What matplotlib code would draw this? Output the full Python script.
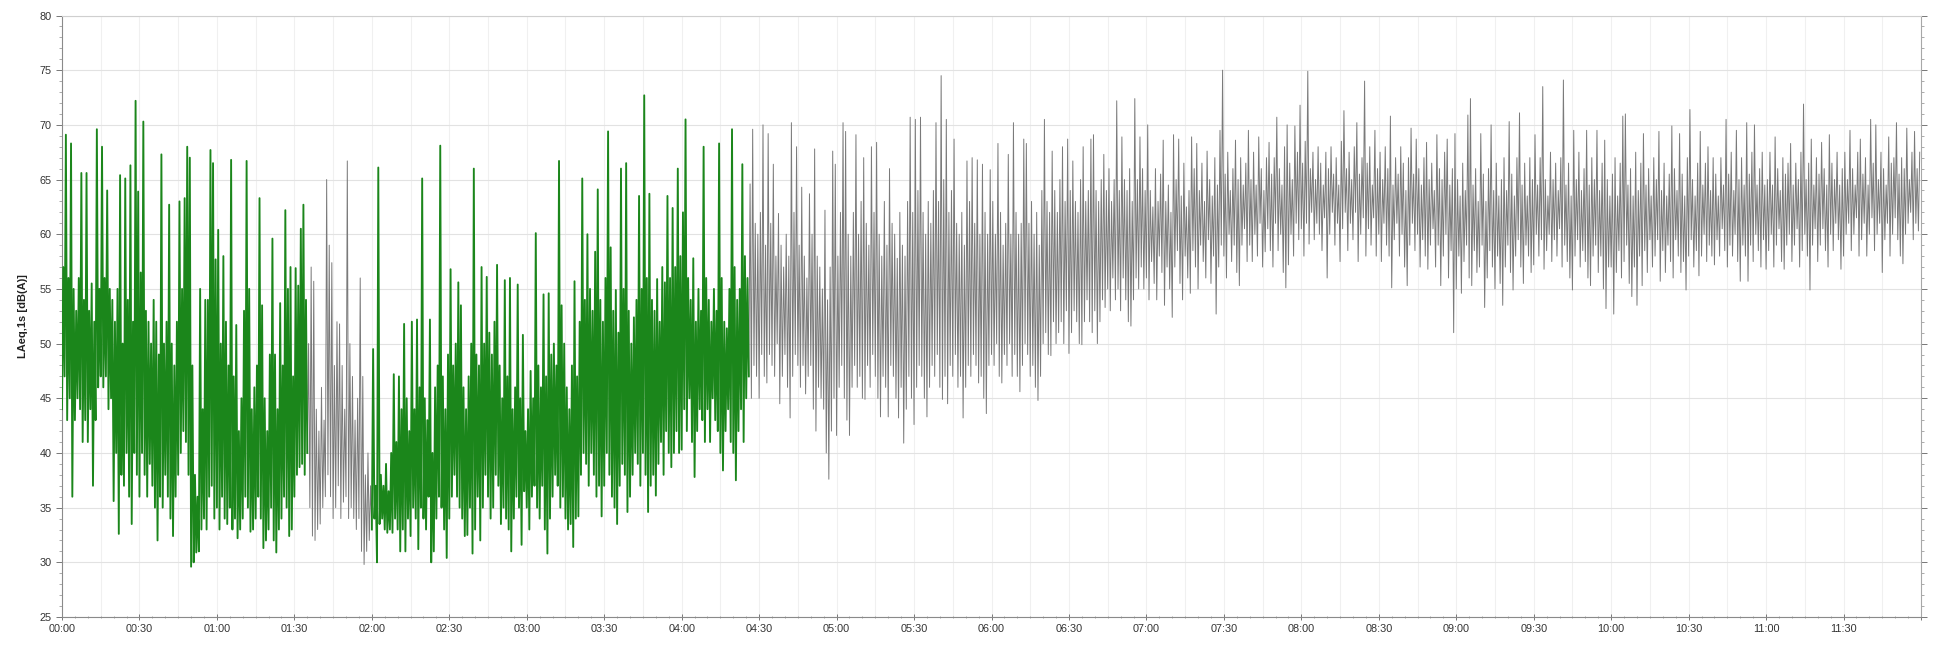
import numpy as np
import matplotlib
matplotlib.use("Agg")
import matplotlib.pyplot as plt
from matplotlib.ticker import MultipleLocator, FuncFormatter

# LAeq,1s envelope per minute, dB(A): upper (hi) and lower (lo) value, one list per hour
hi_00 = [57, 69.1, 56, 68.3, 55, 53, 56, 65.6, 54, 65.6,
         53, 55.5, 52, 69.6, 55, 68, 56, 64, 55, 54,
         52, 55, 65.4, 50, 65.1, 54, 66.3, 52, 72.2, 63.9,
         56.5, 70.3, 53, 52, 50, 54, 52, 49, 67.3, 50,
         52, 62.7, 50, 48, 52, 63, 55, 63.3, 68, 67,
         48, 38, 36, 55, 44, 54, 54, 67.7, 66.5, 57.7]
lo_00 = [44, 47, 43, 45, 36, 43, 45, 44, 41, 43,
         41, 44, 37, 43, 46, 47, 46, 47, 44, 45,
         35.6, 40, 32.6, 38, 37, 40, 36, 33.5, 40, 38,
         36, 40, 38, 36, 39, 37, 35, 32, 36, 35,
         38, 36, 34, 32.4, 36, 38, 40, 42, 41, 38,
         29.6, 30, 30.9, 31, 33, 34, 33, 36, 37, 34]

hi_01 = [60.4, 50, 58, 52, 48, 66.8, 47, 51.7, 42, 45,
         53, 66.7, 55, 44, 46, 48, 63.3, 53.5, 45, 42,
         49, 59.6, 49, 44, 53.7, 48, 62.2, 55, 57, 47,
         56.9, 55.3, 60.5, 62.7, 54, 50, 57, 55.7, 44, 42,
         46, 43, 65, 59, 57.4, 48, 52, 51.8, 48, 44,
         66.7, 50, 47, 43, 45, 56, 47, 38, 40, 37]
lo_01 = [35, 33, 36, 34, 33.5, 35, 33, 34, 32.2, 33,
         34, 36, 35, 32.8, 33, 34, 36, 34, 31.3, 32,
         33, 35, 32, 30.9, 33, 34, 36, 35, 32.4, 33,
         36, 38, 38.7, 39, 38, 40, 35, 32.4, 32, 33,
         33.5, 35, 36, 38, 36, 34, 35, 37, 34, 35.5,
         36, 34, 35, 34, 33, 34, 31, 29.8, 31, 32]

hi_02 = [49.5, 37, 66.1, 38, 37, 39, 36.5, 40, 47.2, 41,
         47, 44, 51.8, 45, 42, 52, 44, 52.2, 46, 65.1,
         45, 43, 52.2, 40, 46, 48, 68.1, 47, 44, 49,
         56.8, 48, 50, 55.6, 53.5, 46, 44, 47, 50, 66,
         49, 48, 57, 50, 56.1, 51, 49, 52, 57.2, 48,
         45, 55.8, 47, 56, 44, 46, 55.4, 45, 50.8, 42]
lo_02 = [33, 34, 30, 33.5, 34, 33, 32.7, 33, 32.7, 34,
         33, 31, 33, 31, 34, 32.4, 35, 34, 31.2, 35,
         34, 33, 36, 30, 31, 34, 36, 35, 33, 30.4,
         34, 36, 38, 36, 35, 34, 32.4, 32.5, 35, 30.8,
         33, 36, 32, 35, 38, 36, 34, 35, 38, 37,
         33.5, 35, 34, 33, 31, 34, 36, 35, 31.6, 36.5]

hi_03 = [44, 47.5, 45, 60.1, 48, 46, 54.5, 47, 54.6, 49,
         50, 48, 66.7, 53.5, 50, 46, 44, 48, 55.7, 47,
         52, 65.1, 54, 60, 55, 53, 58.4, 64.1, 54, 52,
         56, 69.4, 58.8, 53, 54.9, 51, 66, 55, 66.5, 53,
         50, 52.4, 54, 63.5, 55, 72.7, 56, 63.7, 54, 53,
         55.9, 52, 57, 55.6, 63.5, 56, 62.4, 57, 66, 58]
lo_03 = [35, 33, 36, 37, 35, 34, 37, 33, 30.8, 34,
         36, 38, 37, 35, 36, 34, 33, 33.5, 31.4, 34,
         34.2, 38, 40, 39, 37, 40, 38, 36, 37, 34.2,
         37, 40, 38, 36, 35, 33.5, 37, 39, 38, 34.6,
         36, 38, 40, 39, 37, 40, 38, 34.6, 37, 38,
         36.1, 39, 41, 38, 42, 40, 38.7, 40, 42, 40]

hi_04 = [62, 70.5, 56, 54, 57.8, 52, 55, 53, 68, 56,
         54, 52, 55, 53, 68.3, 56, 52, 51.4, 55, 69.6,
         57, 54, 55, 66.4, 58, 56, 64.6, 69.6, 61, 60,
         62, 70, 59, 69.2, 61, 66.4, 58, 61.9, 59, 57,
         60, 58, 70.2, 62, 68, 59, 64.3, 58, 56, 63.7,
         60, 67.8, 58, 57, 55, 62.2, 54, 57, 67.6, 66.4]
lo_04 = [40.3, 44, 42, 45, 41, 37.8, 42, 44, 43, 41,
         44, 41, 45, 43, 42, 40, 38.4, 42, 44, 41,
         40, 37.5, 42, 44, 41, 45, 47, 45, 48, 47,
         45, 49, 47, 46.4, 49, 48, 47, 50, 44.5, 47,
         49, 46, 43.2, 47, 49, 48, 46, 48, 45.4, 47,
         48, 44, 42, 46, 45, 44, 40, 37.6, 42, 45]

hi_05 = [58, 62, 70.2, 69.4, 60, 58, 62, 69.1, 60, 63,
         67, 61, 59, 68, 62, 68.4, 60, 58, 63, 59,
         66, 61, 60, 57.8, 62, 59, 58, 63, 70.7, 62,
         70.5, 64, 70.7, 62, 60, 63, 61, 64, 70.2, 63,
         74.5, 65, 70.5, 62, 64, 68.7, 61, 60, 62, 59,
         66.7, 63, 67, 61, 66.8, 60, 66.4, 62, 60, 65.9]
lo_05 = [41.6, 46, 48, 45, 43, 41.6, 46, 48, 46, 47,
         45, 44.9, 48, 46, 49, 47, 45, 43.3, 47, 46,
         43.3, 48, 47, 45, 43.2, 46, 40.9, 44, 47, 45,
         42.6, 46, 48, 47, 45, 43.3, 46, 48, 47, 49,
         46, 44.9, 47, 44.5, 48, 47, 49, 46, 47, 43.2,
         46, 48, 47, 49, 48, 46.4, 47, 45, 43.6, 48]

hi_06 = [63, 60, 68.3, 62, 59, 61, 67.3, 60, 70.2, 62,
         60, 61, 68.7, 68.3, 61, 63, 60, 62, 59, 64,
         70.5, 63, 62, 67.6, 64, 62, 65, 68, 63, 68.7,
         64, 66.7, 63, 62, 65, 68, 63, 64, 68.7, 69.1,
         64, 63, 65, 67.3, 64, 66, 63, 65, 72.2, 64,
         68.9, 65, 64, 66, 63, 72.4, 65, 68.9, 66, 64]
lo_06 = [49, 48, 50, 47, 46.4, 49, 48, 50, 47, 49,
         47, 45.6, 48, 50, 49, 47, 48, 46, 44.8, 47,
         50, 51, 49, 48.9, 52, 50, 51, 52, 50, 53,
         49.1, 51, 53, 52, 50, 49.9, 52, 54, 52, 51,
         53, 50, 52, 54, 53.3, 55, 53, 56, 54, 55,
         53, 56, 54, 52, 51.6, 54, 56, 55, 57, 55]

hi_07 = [70, 64, 62.5, 66, 63, 65.5, 68.6, 63, 64.5, 62,
         69.1, 65, 68.7, 63.5, 66.5, 62.5, 64, 68.9, 66, 68.3,
         64, 66.5, 63, 67.6, 65, 63.5, 67, 64.5, 69.5, 75,
         65.5, 67.5, 64, 66, 68.6, 65, 67, 64.5, 66.5, 69.5,
         65, 67.5, 64.5, 68.9, 66, 64, 67, 68.4, 65.5, 67,
         70.7, 66, 64.5, 68, 70, 66.5, 65, 69.9, 67.5, 71.8]
lo_07 = [56, 54, 57.5, 55.5, 54, 58, 56.5, 53.5, 57, 55,
         52.4, 57, 58.5, 55.5, 54, 58, 56, 54.6, 58.5, 57,
         55, 59, 57.5, 56, 59.5, 55.5, 58, 52.7, 57, 59,
         58, 56, 60, 57.5, 59, 56.5, 55.3, 59, 60.5, 57.5,
         59, 57.5, 60, 58, 61, 57, 58.4, 60.5, 58.5, 57,
         61, 58.5, 60, 56.5, 55.1, 57.2, 60, 58, 61, 59.5]

hi_08 = [66.5, 68.5, 74.9, 66, 67.5, 65, 68, 66.5, 64.5, 67.5,
         66, 68, 65.5, 67, 64.5, 68.5, 71.3, 66, 67.5, 65,
         68, 70.2, 65.5, 67, 74, 66.5, 68, 64.5, 69.5, 66,
         67.5, 65, 68, 66, 70.8, 64.5, 67, 65.5, 68, 66.5,
         64, 67, 69.7, 65.5, 68.7, 66, 64.5, 67, 68.4, 65,
         66.5, 64, 69.1, 66, 65, 67.5, 68.7, 64.5, 66, 69.2]
lo_08 = [60.5, 58, 61, 59.1, 62, 59.5, 61, 60, 58.5, 61.5,
         56, 60, 62, 59, 61, 57.5, 60.5, 62, 58.5, 61,
         59.5, 62, 57.5, 60, 61.5, 58, 60.5, 59, 61.5, 58,
         60, 57.5, 61, 59, 58, 55.1, 59.5, 61, 58, 60,
         57, 55.3, 59, 61, 58.5, 60, 57, 59.5, 58, 56.8,
         59, 60.5, 57, 59, 55.3, 58, 60, 56, 58.5, 51]

hi_09 = [65, 63.5, 66.5, 64, 70.9, 72.4, 64.5, 66, 63, 69.2,
         65.5, 63, 66, 70, 64, 66.5, 63.5, 65, 67, 64,
         70.3, 65.5, 63.5, 67, 71.1, 64.5, 66.5, 63.5, 67, 65,
         69.1, 64.5, 67, 73.5, 65, 63.5, 67.5, 65, 66.5, 64,
         67, 74.1, 64.5, 66.5, 63.5, 69.5, 65, 67.5, 64, 66,
         69.5, 64.5, 67, 65, 69.5, 64, 66.5, 68.6, 65, 63.5]
lo_09 = [55, 58, 54.6, 57.5, 59, 56, 55.3, 58.5, 56.5, 57,
         59, 53.3, 56, 58.5, 57, 55, 58, 55.5, 53.5, 57,
         59, 56.5, 54.9, 58, 59.5, 57, 55.5, 59, 58, 56.5,
         57.2, 60, 58, 59.5, 56.8, 58.5, 60, 57.5, 59.5, 58,
         60.5, 57, 59, 57.5, 56, 54.9, 58, 59.5, 57, 58.5,
         57.5, 56, 55.3, 58, 59, 56.5, 58, 55, 53.2, 57]

hi_10 = [65.5, 67, 63.5, 66.5, 70.8, 71, 64.5, 66, 63.5, 67.5,
         64, 66.5, 69.2, 64.5, 66, 63.5, 67, 65, 69.4, 64,
         66.5, 63.5, 65.5, 69.9, 66, 64, 69.2, 65.5, 63.5, 67,
         71.4, 65, 63.5, 66.5, 69.4, 64.5, 66.5, 68, 64, 67,
         65.5, 63.5, 67, 64.5, 70.5, 65.5, 67.5, 64, 69.5, 65,
         67, 64.5, 70.2, 65.5, 67.5, 70, 64.5, 66, 67.5, 64.5]
lo_10 = [57, 52.7, 56.5, 58.5, 56, 57.5, 59, 55.5, 54.3, 57,
         53.5, 58, 55.3, 58.5, 56.5, 59.5, 57, 58, 59.5, 55.7,
         58.5, 56.5, 59, 57.5, 56, 59.5, 58, 56.5, 57.5, 54.9,
         58, 59.5, 57, 58.5, 56.2, 58, 60, 57.5, 59, 58,
         57.2, 59.5, 58, 60.5, 58.5, 57, 59, 58, 60, 57.5,
         55.7, 59, 58, 55.7, 59, 57.5, 60, 58.5, 57, 59.5]

hi_11 = [65, 67.5, 64.5, 68.9, 66, 64, 67, 65.5, 66.5, 68.3,
         64.5, 66.5, 65, 67.5, 71.9, 65, 66.5, 68.7, 64.5, 67,
         65.5, 68.4, 66, 64.5, 69.1, 66.5, 65, 67.5, 64.5, 66,
         67.5, 65, 69.5, 66, 64.5, 67.5, 68.7, 65.5, 67, 64.5,
         70.5, 66.5, 70, 65, 67.5, 66, 64.5, 68.9, 66.5, 67,
         70.2, 65.5, 67, 66, 69.7, 65, 67.5, 69.4, 66, 67.5]
lo_11 = [56.8, 58.5, 60, 57, 59, 60.5, 57.5, 56.8, 59, 60,
         57.5, 59, 60.5, 57, 58.5, 60, 58, 54.9, 59, 60.5,
         57.5, 59, 60.5, 58.5, 57, 60, 58.5, 61, 59.5, 56.8,
         58, 60, 61, 58.5, 60, 61.5, 58, 59.5, 61, 58,
         60, 61.5, 58.5, 60, 61, 56.5, 59.5, 61, 58, 60,
         61.5, 59.5, 58, 57.3, 60, 61, 62, 59.5, 61, 60.3]

# periods (minutes after 00:00) drawn in green; the rest of the record is grey
green_periods = [(0, 95), (120, 266)]

GREEN = "#1b861b"
GREY = "#7a7a7a"

hi = np.concatenate([hi_00, hi_01, hi_02, hi_03, hi_04, hi_05,
                     hi_06, hi_07, hi_08, hi_09, hi_10, hi_11])
lo = np.concatenate([lo_00, lo_01, lo_02, lo_03, lo_04, lo_05,
                     lo_06, lo_07, lo_08, lo_09, lo_10, lo_11])
n = len(hi)
minute = np.arange(n, dtype=float)

# interleave low and high value of each minute into one trace
t = np.empty(2 * n)
level = np.empty(2 * n)
t[0::2] = minute
t[1::2] = minute + 0.5
level[0::2] = lo
level[1::2] = hi

total = float(n)
grey_periods = []
start = 0.0
for a, b in green_periods:
    if a > start:
        grey_periods.append((start, a))
    start = b
if start < total:
    grey_periods.append((start, total))

plt.rcParams["font.family"] = ["Liberation Sans", "DejaVu Sans"]
fig = plt.figure(figsize=(19.34, 6.48), dpi=100)
ax = fig.add_axes([62 / 1934, 31 / 648, (1921 - 62) / 1934, (617 - 15.5) / 648])

for a, b in grey_periods:
    m = (t >= a) & (t <= b)
    ax.plot(t[m], level[m], color=GREY, lw=0.7, zorder=3)
for a, b in green_periods:
    m = (t >= a) & (t <= b)
    ax.plot(t[m], level[m], color=GREEN, lw=1.35, zorder=4)

ax.set_xlim(0, total)
ax.set_ylim(25, 80)


def hhmm(v, pos):
    if v >= total - 1e-6:
        return ""
    return f"{int(v) // 60:02d}:{int(v) % 60:02d}"


ax.xaxis.set_major_locator(MultipleLocator(30))
ax.xaxis.set_minor_locator(MultipleLocator(5))
ax.xaxis.set_major_formatter(FuncFormatter(hhmm))
ax.yaxis.set_major_locator(MultipleLocator(5))
ax.yaxis.set_minor_locator(MultipleLocator(1))

# faint grid: every 5 dB, every 15 minutes
ax.grid(axis="y", which="major", color="#e2e2e2", lw=0.8, zorder=0)
for q in np.arange(15, total, 15):
    ax.axvline(q, color="#f0f0f0", lw=0.8, zorder=0)

ax.tick_params(axis="both", which="major", labelsize=7.8, labelcolor="#333333",
               color="#777777", length=4, width=0.7)
ax.tick_params(axis="both", which="minor", color="#888888", length=2, width=0.5)
ax.tick_params(axis="x", which="both", direction="inout", pad=3)
ax.tick_params(axis="y", which="both", right=True, direction="out")

for side, col in [("left", "#8a8a8a"), ("bottom", "#8a8a8a"),
                  ("top", "#cfcfcf"), ("right", "#a8a8a8")]:
    ax.spines[side].set_color(col)
    ax.spines[side].set_linewidth(0.8)

ax.set_ylabel("LAeq,1s [dB(A)]", fontsize=8, fontweight="bold", color="#222222", labelpad=8)

fig.savefig("out.png", dpi=100, facecolor="white")
